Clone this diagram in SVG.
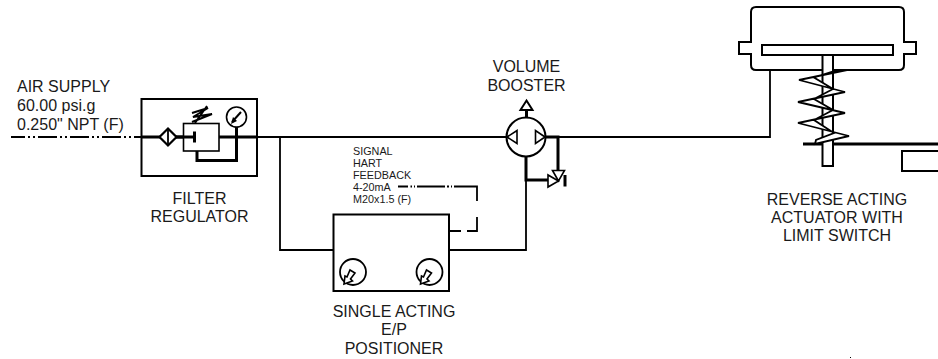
<svg xmlns="http://www.w3.org/2000/svg" width="938" height="359" viewBox="0 0 938 359">
<style>
text{font-family:"Liberation Sans",Arial,sans-serif;font-size:16px;fill:#1a1a1a}
.s{font-size:10.8px}
.l{fill:none;stroke:#000;stroke-width:1.8}
.m{fill:none;stroke:#000;stroke-width:2}
.t{fill:none;stroke:#000;stroke-width:3}
.w{fill:#fff;stroke:#000;stroke-width:1.6}
</style>
<rect width="938" height="359" fill="#fff"/>
<g id="connectors">
<path class="l" d="M11 137H141" stroke-dasharray="19 3 2 3 2 3" stroke-dashoffset="5"/>
<path class="t" d="M141 137H183"/>
<path class="t" d="M219 137H257"/>
<path class="l" d="M257 137H506M546 137H770V70"/>
<path class="l" d="M280 137V250H333"/>
<path class="l" d="M449 250H526V180"/>
<path class="t" d="M197 151V160.500H236.500V127"/>
<path class="t" d="M526 157V180H548"/>
<path class="t" d="M546 137H558V170"/>
<path class="l" d="M398 186.500H408M410.500 186.500H412M414 186.500H415M417 186.500H445M447 186.500H449M451 186.500H452M454 186.500H477V201M477 217V231H467M461 231H449"/>
</g>
<g id="air-supply">
<text x="17" y="92">AIR SUPPLY</text>
<text x="17" y="111">60.00 psi.g</text>
<text x="17" y="129.500">0.250" NPT (F)</text>
</g>
<g id="filter-regulator">
<rect class="m" x="141.500" y="99" width="115.500" height="77"/>
<path class="w" d="M168 128.500L176.500 137L168 145.500L159.500 137Z" style="stroke-width:2.200"/>
<path class="l" d="M168 128.500V145.500"/>
<rect class="w" x="183.500" y="123.500" width="35.500" height="27.500"/>
<path class="t" d="M176 137H193"/>
<path class="t" d="M194.500 131.500V142.500"/>
<path class="m" d="M195 123L207 106M192 113L208 108L193 117L212 114L192 122"/>
<circle class="w" cx="236.500" cy="117" r="10"/>
<path class="m" d="M232 122L241 112"/>
<path d="M231 124L233 117L237 121Z" fill="#000"/>
<text x="199.500" y="204" text-anchor="middle">FILTER</text>
<text x="199.500" y="222" text-anchor="middle">REGULATOR</text>
</g>
<g id="volume-booster">
<text x="526.500" y="72" text-anchor="middle">VOLUME</text>
<text x="526.500" y="91" text-anchor="middle">BOOSTER</text>
<path class="t" d="M526.500 117V110"/>
<path class="w" d="M526.500 100.500L532.500 110H520.500Z" style="stroke-width:2"/>
<circle class="w" cx="526" cy="137" r="19.500" style="stroke-width:2"/>
<path class="w" d="M507 137L517 130.500V143.500Z"/>
<path class="w" d="M545 137L535.500 130.500V143.500Z"/>
<path class="w" d="M558.500 181L548 175V187Z"/>
<path class="w" d="M558.500 181L552.500 170.500H564.500Z"/>
<path class="t" d="M565 175V186.500"/>
</g>
<g id="positioner">
<rect class="m" x="333.500" y="214.500" width="115.500" height="76.500"/>
<circle class="l" cx="353" cy="272" r="13"/>
<circle class="l" cx="429.500" cy="272" r="13"/>
<path class="w" d="M350 270L355 273L350.500 279L352.500 281L344 284L345 276L347 277Z"/>
<path class="w" d="M426.500 270L431.500 273L427 279L429 281L420.500 284L421.500 276L423.500 277Z"/>
<text class="s" x="353" y="155">SIGNAL</text>
<text class="s" x="353" y="167">HART</text>
<text class="s" x="353" y="179">FEEDBACK</text>
<text class="s" x="353" y="191">4-20mA</text>
<text class="s" x="353" y="203">M20x1.5 (F)</text>
<text x="394" y="317" text-anchor="middle">SINGLE ACTING</text>
<text x="394" y="335" text-anchor="middle">E/P</text>
<text x="394" y="353.500" text-anchor="middle">POSITIONER</text>
</g>
<g id="actuator">
<path class="m" d="M751 42V12Q751 7 756 7H899Q904 7 904 12V42H916V54H904V65Q904 70 899 70H756Q751 70 751 65V54H739V42Z"/>
<rect class="m" x="762" y="45" width="131" height="10"/>
<path class="m" d="M803 144H938" style="stroke-width:3"/>
<rect class="w" x="822.500" y="55" width="10.500" height="111" style="stroke-width:2"/>
<path class="w" d="M847 70L799 80L845 92L798 102L845 113L798 123L849 136L815 144L816 140L834 133L814 120L833 110L814 99L833 89L814 77.500L838 70Z" style="stroke-width:1.800"/>
<path class="m" d="M938 151H902V171H938"/>
<text x="837" y="205" text-anchor="middle">REVERSE ACTING</text>
<text x="837" y="222.500" text-anchor="middle">ACTUATOR WITH</text>
<text x="837" y="240.500" text-anchor="middle">LIMIT SWITCH</text>
</g>
<rect x="850" y="357" width="1" height="1" fill="#000"/>
</svg>
